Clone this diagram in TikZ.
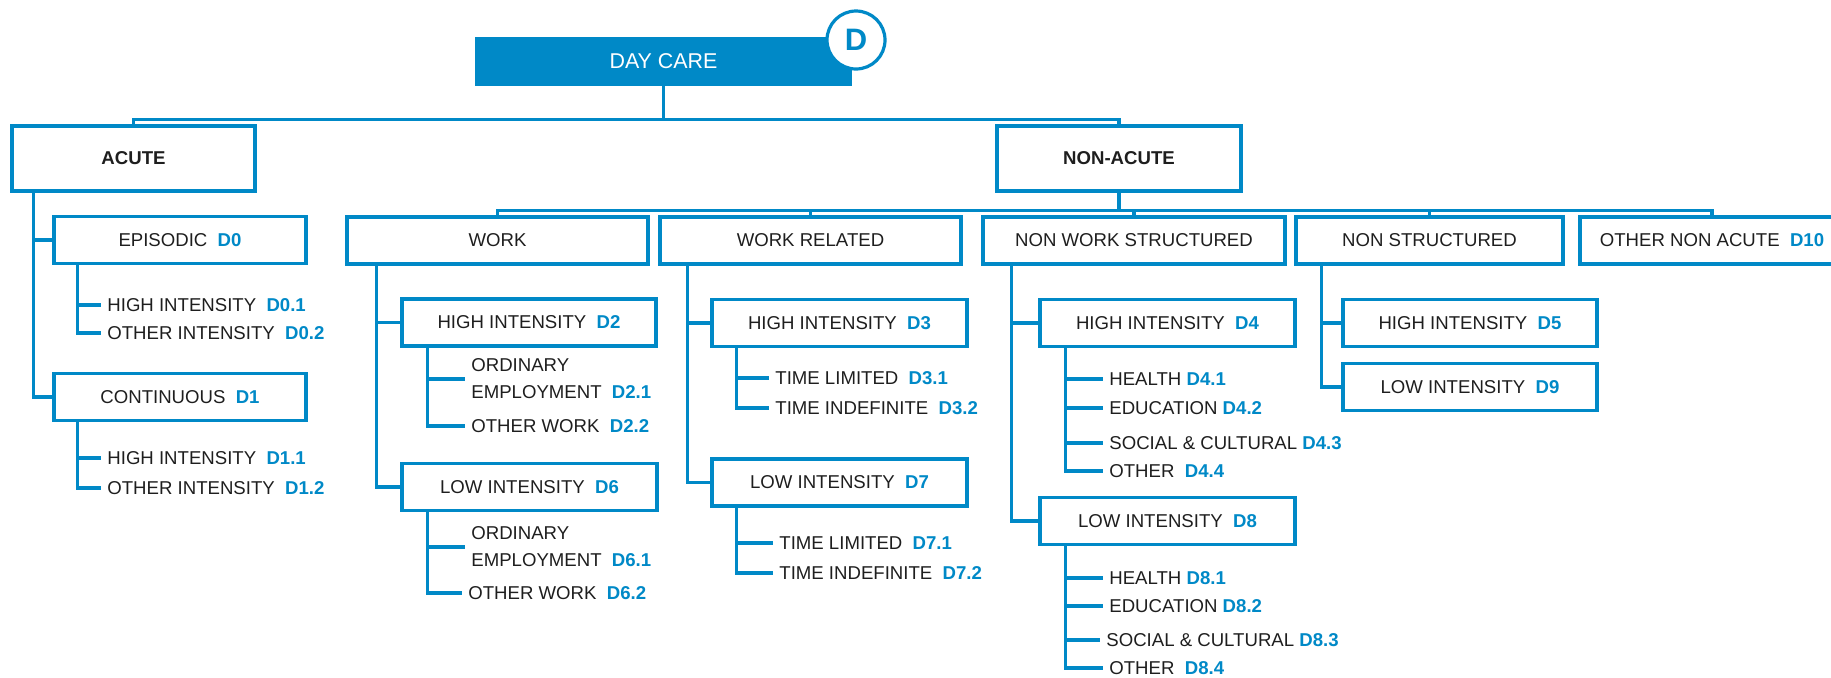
\documentclass[tikz,border=0pt]{standalone}
\usepackage{fontspec}
\setmainfont{Liberation Sans}
\usetikzlibrary{calc}
\definecolor{dcblue}{RGB}{0,137,199}
\definecolor{dctext}{RGB}{30,30,30}
\newcommand{\cd}[1]{\textcolor{dcblue}{\textbf{#1}}}

\begin{document}
\begin{tikzpicture}[x=0.5pt,y=-0.5pt,font=\fontsize{9.3}{13.5}\selectfont,
		box/.style={draw=dcblue,line width=1.6pt,text=dctext,inner sep=0pt,minimum height=23.5pt},
		leaf/.style={anchor=west,text=dctext,inner sep=3pt,align=left},
		link/.style={draw=dcblue,line width=1.6pt}]
	\useasboundingbox (0,0) rectangle (1831,677);

	% top
	\node[fill=dcblue,text=white,minimum width=188.5pt,minimum height=24.5pt,inner sep=0pt,font=\fontsize{10.7}{12}\selectfont] (daycare) at (663.5,61.5) {DAY CARE};
	\node[circle,draw=dcblue,fill=white,line width=1.6pt,minimum size=29pt,inner sep=0pt,text=dcblue,font=\fontsize{15.5}{16}\selectfont\bfseries] (badge) at (856,40) {D};

	\node[box,minimum width=121.5pt,minimum height=32.5pt,font=\fontsize{9.3}{11}\selectfont\bfseries] (acute) at (133.5,158.5) {ACUTE};
	\node[box,minimum width=122pt,minimum height=32.5pt,font=\fontsize{9.3}{11}\selectfont\bfseries] (nonacute) at (1119,158.5) {NON-ACUTE};

	\draw[link] (daycare.south) -- ++(0,33) -| (acute.north);
	\draw[link] (daycare.south) -- ++(0,33) -| (nonacute.north);

	% acute side
	\node[box,minimum width=126pt] (episodic) at (180,240) {EPISODIC~~\cd{D0}};
	\node[box,minimum width=126pt] (continuous) at (180,397) {CONTINUOUS~~\cd{D1}};
	\draw[link] ($(acute.south west)+(23,0)$) |- (episodic.west);
	\draw[link] ($(acute.south west)+(23,0)$) |- (continuous.west);

	% non-acute side
	\foreach \nm/\x/\w/\txt in {work/497.5/150.5/{WORK}, workrel/810.5/150.5/{WORK RELATED},
			nws/1134/151/{NON WORK STRUCTURED}, ns/1429.5/133.5/{NON STRUCTURED},
			other/1712/132/{OTHER NON ACUTE~~\cd{D10}}} {
		\node[box,minimum width=\w pt] (\nm) at (\x,240.5) {\txt};
		\draw[link] (nonacute.south) -- ++(0,17.5) -| (\nm.north);
	}

	\foreach \pa/\dx/\nm/\x/\y/\w/\txt in {
			work/31/hi2/529/322.5/127/{HIGH INTENSITY~~\cd{D2}},
			work/31/lo6/529.5/487/127.5/{LOW INTENSITY~~\cd{D6}},
			workrel/29/hi3/839.5/323/127.5/{HIGH INTENSITY~~\cd{D3}},
			workrel/29/lo7/839.5/482.5/127.5/{LOW INTENSITY~~\cd{D7}},
			nws/30/hi4/1167.5/323/127.5/{HIGH INTENSITY~~\cd{D4}},
			nws/30/lo8/1167.5/521/127.5/{LOW INTENSITY~~\cd{D8}},
			ns/27/hi5/1470/323/127/{HIGH INTENSITY~~\cd{D5}},
			ns/27/lo9/1470/387/127/{LOW INTENSITY~~\cd{D9}}} {
		\node[box,minimum width=\w pt] (\nm) at (\x,\y) {\txt};
		\draw[link] ($(\pa.south west)+(\dx,0)$) |- (\nm.west);
	}

	% leaves
	\foreach \pa/\dx/\nm/\x/\y/\txt in {
			episodic/25/a1/101/305/{HIGH INTENSITY~~\cd{D0.1}},
			episodic/25/a2/101/333/{OTHER INTENSITY~~\cd{D0.2}},
			continuous/25/a3/101/458/{HIGH INTENSITY~~\cd{D1.1}},
			continuous/25/a4/101/488/{OTHER INTENSITY~~\cd{D1.2}},
			hi2/27/b1/465/379/{ORDINARY\\EMPLOYMENT~~\cd{D2.1}},
			hi2/27/b2/465/426/{OTHER WORK~~\cd{D2.2}},
			lo6/27/b3/465/547/{ORDINARY\\EMPLOYMENT~~\cd{D6.1}},
			lo6/27/b4/462/593/{OTHER WORK~~\cd{D6.2}},
			hi3/26/c1/769/378/{TIME LIMITED~~\cd{D3.1}},
			hi3/26/c2/769/408/{TIME INDEFINITE~~\cd{D3.2}},
			lo7/26/c3/773/543/{TIME LIMITED~~\cd{D7.1}},
			lo7/26/c4/773/573/{TIME INDEFINITE~~\cd{D7.2}},
			hi4/27/d1/1103/379/{HEALTH \cd{D4.1}},
			hi4/27/d2/1103/408/{EDUCATION \cd{D4.2}},
			hi4/27/d3/1103/443/{SOCIAL \& CULTURAL \cd{D4.3}},
			hi4/27/d4/1103/471/{OTHER~~\cd{D4.4}},
			lo8/27/d5/1103/578/{HEALTH \cd{D8.1}},
			lo8/27/d6/1103/606/{EDUCATION \cd{D8.2}},
			lo8/27/d7/1100/640/{SOCIAL \& CULTURAL \cd{D8.3}},
			lo8/27/d8/1103/668/{OTHER~~\cd{D8.4}}} {
		\node[leaf] (\nm) at (\x,\y) {\txt};
		\draw[link] ($(\pa.south west)+(\dx,0)$) |- (\nm.west);
	}
\end{tikzpicture}
\end{document}
